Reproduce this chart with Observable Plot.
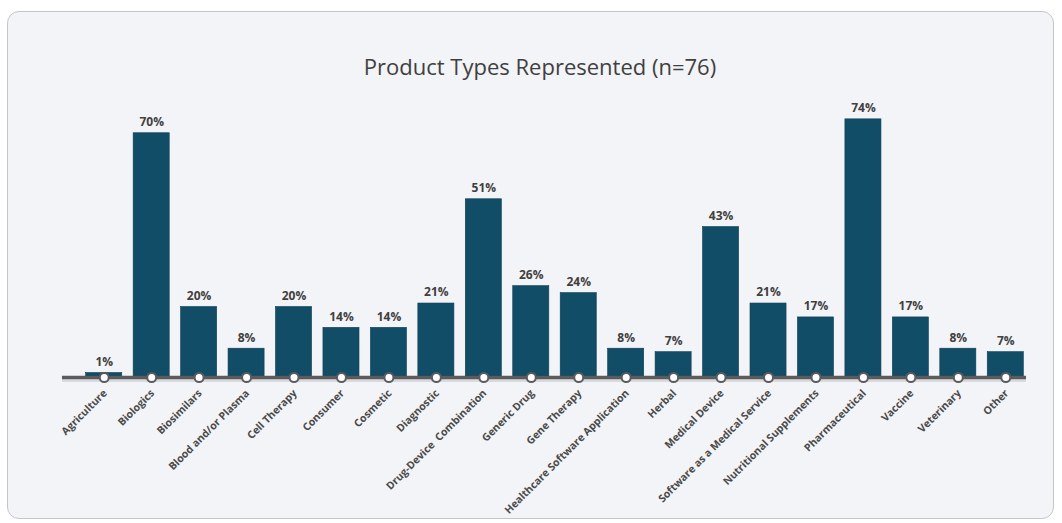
<!DOCTYPE html>
<html>
<head>
<meta charset="utf-8">
<script src="https://cdn.jsdelivr.net/npm/d3@7"></script>
<script src="https://cdn.jsdelivr.net/npm/@observablehq/plot@0.6"></script>
<style>
  html, body { margin: 0; padding: 0; background: #ffffff; }
  #wrap { position: relative; width: 1062px; height: 523px; overflow: hidden; }
  #panel { position: absolute; left: 7px; top: 11px; width: 1047px; height: 508px;
           border: 1px solid #c4c6ca; border-radius: 12px; background: #f3f4f7; box-sizing: border-box; }
  #title { position: absolute; left: 0; width: 1080px; top: 51px; text-align: center;
           font-family: "Open Sans", sans-serif; font-size: 22px; color: #404040; }
  #chart { position: absolute; left: 0; top: 0; }
</style>
</head>
<body>
<div id="wrap">
  <div id="panel"></div>
  <div id="title">Product Types Represented (n=76)</div>
  <div id="chart"></div>
</div>
<script>
const categories = ["Agriculture","Biologics","Biosimilars","Blood and/or Plasma","Cell Therapy","Consumer","Cosmetic","Diagnostic","Drug-Device  Combination","Generic Drug","Gene Therapy","Healthcare Software Application","Herbal","Medical Device","Software as a Medical Service","Nutritional Supplements","Pharmaceutical","Vaccine","Veterinary","Other"];
const values = [1,70,20,8,20,14,14,21,51,26,24,8,7,43,21,17,74,17,8,7];

const data = categories.map((c, i) => ({category: c, value: values[i]}));

const chart = Plot.plot({
  width: 1062,
  height: 523,
  marginLeft: 80,
  marginRight: 33,
  marginTop: 98,
  marginBottom: 147,
  style: {background: "transparent", overflow: "visible"},
  x: {domain: categories, paddingInner: 0.24, paddingOuter: 0.12, round: false, axis: null},
  y: {domain: [0, 80], axis: null},
  marks: [
    Plot.barY(data, {x: "category", y: "value", fill: "#124d68", stroke: "#0d3e55", strokeWidth: 0.6}),
    Plot.ruleY([0], {dy: 4, stroke: "#d9dadd", strokeWidth: 3, insetLeft: -18, insetRight: 3}),
    Plot.ruleY([0], {dy: 1, stroke: "#5b5b5d", strokeWidth: 3.5, insetLeft: -18, insetRight: 3}),
    Plot.dot(data, {x: "category", y: () => 0, dy: 1, r: 4.5, fill: "#ffffff", stroke: "#5b5b5d", strokeWidth: 2}),
    Plot.text(data, {x: "category", y: "value", text: d => d.value + "%", dy: -11,
      fontSize: 12, fontWeight: "bold", fill: "#404040", fontFamily: "Open Sans"}),
    Plot.text(data, {x: "category", y: () => 0, text: "category", rotate: -45, textAnchor: "end",
      dx: 1, dy: 15, fontSize: 10.5, fontWeight: "bold", fill: "#4a4a4a", fontFamily: "Open Sans"})
  ]
});
document.getElementById("chart").appendChild(chart);
</script>
</body>
</html>
